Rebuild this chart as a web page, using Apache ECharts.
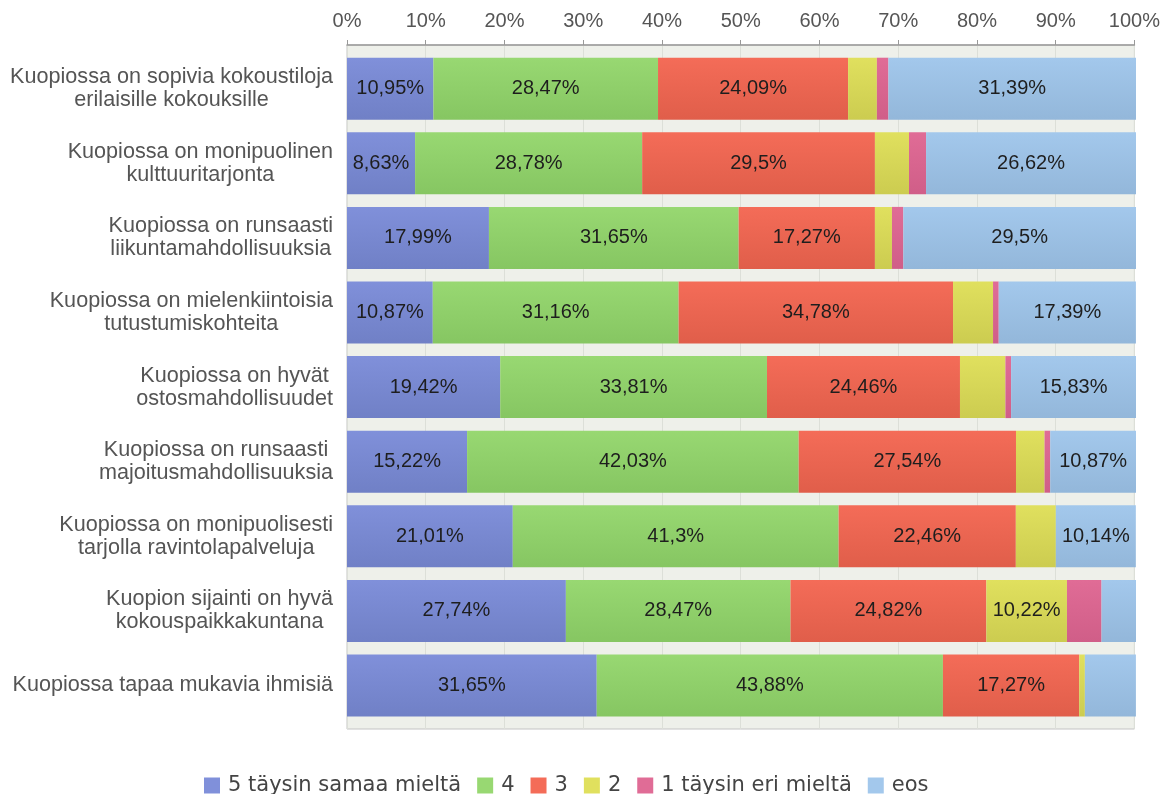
<!DOCTYPE html>
<html>
<head>
<meta charset="utf-8">
<script src="https://cdn.jsdelivr.net/npm/echarts@6/dist/echarts.min.js"></script>
<style>
html,body{margin:0;padding:0;background:#fff;}
#c{width:1163px;height:794px;}
</style>
</head>
<body>
<div id="c"></div>
<script>
var categories = [
  'Kuopiossa on sopivia kokoustiloja\nerilaisille kokouksille',
  'Kuopiossa on monipuolinen\nkulttuuritarjonta',
  'Kuopiossa on runsaasti\nliikuntamahdollisuuksia',
  'Kuopiossa on mielenkiintoisia\ntutustumiskohteita',
  'Kuopiossa on hyvät\nostosmahdollisuudet',
  'Kuopiossa on runsaasti\nmajoitusmahdollisuuksia',
  'Kuopiossa on monipuolisesti\ntarjolla ravintolapalveluja',
  'Kuopion sijainti on hyvä\nkokouspaikkakuntana',
  'Kuopiossa tapaa mukavia ihmisiä'
];
var seriesNames = ['5 täysin samaa mieltä', '4', '3', '2', '1 täysin eri mieltä', 'eos'];
var s5  = [10.95, 8.63, 17.99, 10.87, 19.42, 15.22, 21.01, 27.74, 31.65];
var s4  = [28.47, 28.78, 31.65, 31.16, 33.81, 42.03, 41.3, 28.47, 43.88];
var s3  = [24.09, 29.5, 17.27, 34.78, 24.46, 27.54, 22.46, 24.82, 17.27];
var s2  = [3.65, 4.32, 2.16, 5.07, 5.76, 3.62, 5.07, 10.22, 0.72];
var s1  = [1.46, 2.16, 1.44, 0.72, 0.72, 0.72, 0, 4.38, 0];
var eos = [31.39, 26.62, 29.5, 17.39, 15.83, 10.87, 10.14, 4.38, 6.47];
var xTicks = [0, 10, 20, 30, 40, 50, 60, 70, 80, 90, 100];

var colorsTop = ['#8090da', '#98d872', '#f46c58', '#e0e05e', '#e06c96', '#a3c8ec'];
var colorsBot = ['#7080c6', '#86c662', '#e05e4a', '#cccc50', '#d05e88', '#93b7da'];
var FONT = 'Liberation Sans, Arial, sans-serif';

function grad(i) {
  return {type: 'linear', x: 0, y: 0, x2: 0, y2: 1,
    colorStops: [{offset: 0, color: colorsTop[i]}, {offset: 1, color: colorsBot[i]}]};
}
function fmt(p) {
  var v = p.value;
  if (v < 8) return '';
  var s = (Math.round(v * 100) / 100).toString().replace('.', ',');
  return s + '%';
}

var data = [s5, s4, s3, s2, s1, eos];
var series = data.map(function (arr, i) {
  return {
    name: seriesNames[i],
    type: 'bar',
    stack: 'all',
    xAxisIndex: 1,
    yAxisIndex: 1,
    barWidth: 62,
    data: arr,
    itemStyle: {color: grad(i)},
    label: {
      show: true, position: 'inside', formatter: fmt,
      color: '#1e1e1e', fontSize: 20, fontFamily: FONT
    },
    emphasis: {disabled: true}
  };
});

var chart = echarts.init(document.getElementById('c'), null, {renderer: 'canvas'});
chart.setOption({
  animation: false,
  backgroundColor: '#ffffff',
  textStyle: {fontFamily: FONT},
  legend: {
    data: seriesNames.map(function (n, i) { return {name: n, itemStyle: {color: colorsTop[i]}}; }),
    left: 204, top: 775, padding: 0,
    icon: 'rect', itemWidth: 16, itemHeight: 16, itemGap: 16,
    textStyle: {fontSize: 21, color: '#444', fontFamily: 'DejaVu Sans, Verdana, sans-serif',
      padding: [0, 0, 0, 3]}
  },
  grid: [
    {left: 347, right: 27, top: 45, bottom: 65, show: true, backgroundColor: '#eef0ea',
     borderColor: '#c4c4c4', borderWidth: 1},
    {left: 347, right: 27, top: 51.4, bottom: 71.2}
  ],
  xAxis: [
    {gridIndex: 0, type: 'value', position: 'top', min: 0, max: 100, interval: 10,
     axisLine: {show: true, lineStyle: {color: '#999', width: 1.5}},
     axisTick: {show: true, length: 5, lineStyle: {color: '#999'}},
     axisLabel: {color: '#555', fontSize: 20, margin: 14,
       formatter: function (v) { return xTicks.indexOf(v) >= 0 ? v + '%' : ''; }},
     splitLine: {show: true, lineStyle: {color: '#dcdfd8'}}},
    {gridIndex: 1, type: 'value', min: 0, max: 100, show: false}
  ],
  yAxis: [
    {gridIndex: 0, type: 'category', data: [''], show: false},
    {gridIndex: 1, type: 'category', data: categories, inverse: true,
     axisLine: {show: false}, axisTick: {show: false},
     axisLabel: {
       margin: 14, align: 'right', color: '#555', fontSize: 21.6, lineHeight: 23,
       formatter: function (v) {
         return v.split('\n').map(function (l) { return '{c|' + l + '}'; }).join('\n');
       },
       rich: {c: {align: 'center', fontSize: 21.6, lineHeight: 23, color: '#555'}}
     }}
  ],
  series: series
});
</script>
</body>
</html>
